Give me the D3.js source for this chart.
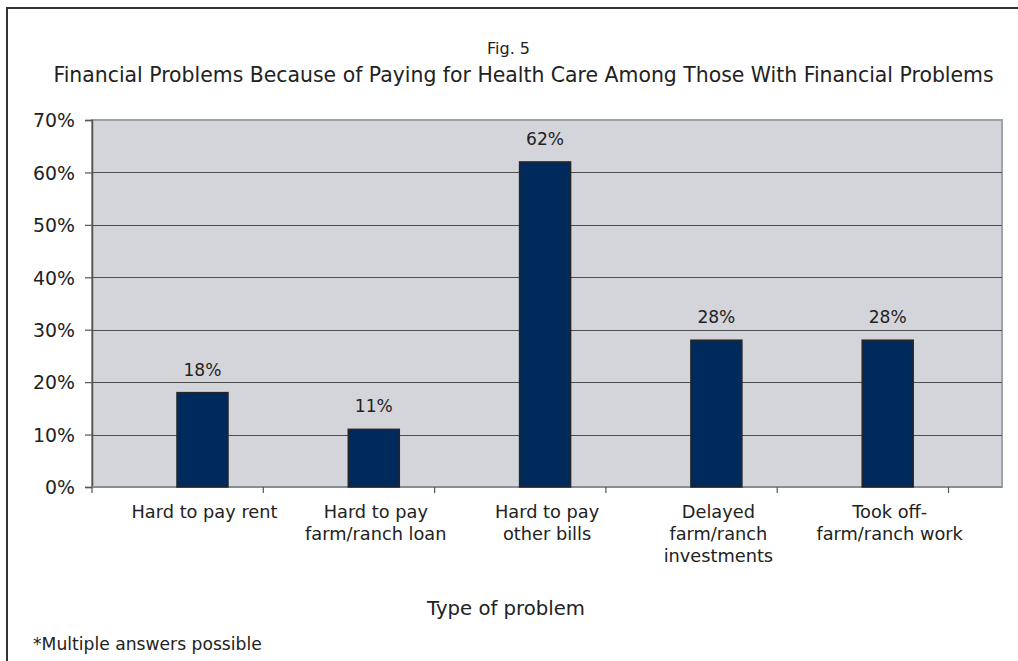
<!DOCTYPE html>
<html><head><meta charset="utf-8">
<script src="https://cdn.jsdelivr.net/npm/d3@7"></script>
<style>body{margin:0;background:#fff;} svg{display:block;} text{font-family:"DejaVu Sans",sans-serif;fill:#222;}</style>
</head><body>
<svg id="c" width="1018" height="661"></svg>
<script>
const categories = [["Hard to pay rent"],["Hard to pay","farm/ranch loan"],["Hard to pay","other bills"],["Delayed","farm/ranch","investments"],["Took off-","farm/ranch work"]];
const values = [18, 11, 62, 28, 28];
const yTicks = [0,10,20,30,40,50,60,70];
const figLabel = "Fig. 5";
const title = "Financial Problems Because of Paying for Health Care Among Those With Financial Problems";
const xTitle = "Type of problem";
const footnote = "*Multiple answers possible";

const svg = d3.select("#c");
const L = 92, R = 1002, T = 120, B = 487;
const idx = categories.map((d,i)=>i);
const x = d3.scaleBand().domain(idx).range([L, 948.5]).padding(0);
const step = x.step();
const barW = 51;
const cx = i => x(i) + step*0.645;
const y = d3.scaleLinear().domain([0,70]).range([B,T]);

function fitSize(txt, fs, w){ const t=svg.append("text").attr("font-size",fs).text(txt); const cur=t.node().getComputedTextLength(); t.remove(); return fs*w/cur; }

// frame
svg.append("path").attr("d","M7,680 L7,8 L1030,8").attr("fill","none").attr("stroke","#333").attr("stroke-width",2);

// plot bg
svg.append("rect").attr("x",L).attr("y",T).attr("width",R-L).attr("height",B-T).attr("fill","#d4d5da").attr("stroke","#9ea3a9").attr("stroke-width",2);

// grid
svg.append("g").selectAll("line").data(yTicks.filter(t=>t>0&&t<70)).join("line")
  .attr("x1",L).attr("x2",R).attr("y1",d=>Math.round(y(d))+0.5).attr("y2",d=>Math.round(y(d))+0.5).attr("stroke","#4d4d4d").attr("stroke-width",1);

// y axis
const ySize = fitSize("70%", 16, 42);
const ya = svg.append("g").attr("transform",`translate(${L},0)`).call(d3.axisLeft(y).tickValues(yTicks).tickFormat(d=>d+"%").tickSize(7).tickPadding(10));
ya.select(".domain").attr("stroke","#555").attr("stroke-width",1.5);
ya.selectAll(".tick line").attr("stroke","#555").attr("stroke-width",1.2);
ya.selectAll("text").attr("font-size",ySize).attr("fill","#222").attr("dy","0.36em").style("font-family","'DejaVu Sans', sans-serif");

// x axis line and ticks
svg.append("line").attr("x1",L).attr("x2",R).attr("y1",B).attr("y2",B).attr("stroke","#8a8e94").attr("stroke-width",2);
svg.append("g").selectAll("line").data(d3.range(categories.length+1)).join("line")
  .attr("x1",d=>L+d*step).attr("x2",d=>L+d*step).attr("y1",B).attr("y2",B+6).attr("stroke","#555").attr("stroke-width",1.2);

// bars
svg.append("g").selectAll("rect").data(values).join("rect")
  .attr("x",(d,i)=>cx(i)-barW/2).attr("y",d=>y(d)).attr("width",barW).attr("height",d=>B-y(d))
  .attr("fill","#002a5c").attr("stroke","#262626").attr("stroke-width",1.5);

// value labels
const vSize = fitSize("18%", 16, 38);
svg.append("g").selectAll("text").data(values).join("text")
  .attr("x",(d,i)=>cx(i)).attr("y",d=>y(d)-17).attr("text-anchor","middle").attr("font-size",vSize).text(d=>d+"%");

// category labels
const cSize = fitSize("Hard to pay rent", 16, 146);
const cl = svg.append("g").selectAll("text").data(categories).join("text")
  .attr("text-anchor","middle").attr("font-size",cSize).attr("y",518);
cl.each(function(d,i){
  const t=d3.select(this);
  d.forEach((line,j)=>t.append("tspan").attr("x",cx(i)+2).attr("dy",j?22:0).text(line));
});

// titles
svg.append("text").attr("x",508.5).attr("y",54).attr("text-anchor","middle").attr("font-size",fitSize(figLabel,13,43)).text(figLabel);
svg.append("text").attr("x",523.5).attr("y",82).attr("text-anchor","middle").attr("font-size",fitSize(title,19,941)).text(title);
svg.append("text").attr("x",506).attr("y",615).attr("text-anchor","middle").attr("font-size",fitSize(xTitle,18,158)).text(xTitle);
svg.append("text").attr("x",33).attr("y",650).attr("font-size",fitSize(footnote,15,229)).text(footnote);
</script>
</body></html>
